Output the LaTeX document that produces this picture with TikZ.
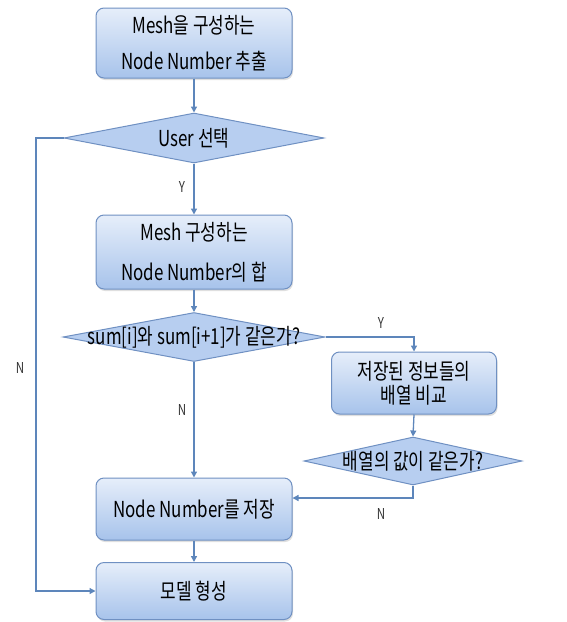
\documentclass[tikz,border=0pt]{standalone}
\usepackage{fontspec}
\setmainfont{Noto Sans CJK KR}[FakeStretch=0.77]
\usetikzlibrary{shapes.geometric,arrows.meta,shadows}
\definecolor{lc}{HTML}{5D86BB}
\definecolor{bd}{HTML}{6F90C2}
\definecolor{ft}{HTML}{E6EEFA}
\definecolor{fb}{HTML}{A7C3EB}
\definecolor{df}{HTML}{B7CEF0}
\begin{document}
\begin{tikzpicture}[x=1pt,y=-1pt,
 box/.style={draw=bd, line width=1pt, rounded corners=8pt, top color=ft, bottom color=fb,
   align=center, inner sep=0pt,
   drop shadow={opacity=0.25,shadow xshift=1pt,shadow yshift=-2pt}},
 dia/.style={draw=bd, line width=1pt, diamond, fill=df, inner sep=0pt},
 txt/.style={font=\fontsize{22}{24}\selectfont, inner sep=0pt},
 arr/.style={draw=lc, line width=1.3pt, -{Triangle[length=6pt,width=6pt]}},
 lab/.style={font=\fontsize{15}{16}\selectfont, text=black!80, inner sep=0pt}]
\useasboundingbox (0,0) rectangle (567,622);
% boxes
\node[box, minimum width=196pt, minimum height=70pt, font=\fontsize{22}{36}\selectfont] (b1) at (194,43) {Mesh을 구성하는\\Node Number 추출};
\node[box, minimum width=196pt, minimum height=74pt, font=\fontsize{22}{40}\selectfont] (b2) at (194,252) {Mesh 구성하는\\Node Number의 합};
\node[box, minimum width=165pt, minimum height=62pt, font=\fontsize{22}{24}\selectfont] (b3) at (414,383) {저장된 정보들의\\배열 비교};
\node[box, minimum width=196pt, minimum height=62pt, font=\fontsize{22}{24}\selectfont] (b4) at (194,509) {Node Number를 저장};
\node[box, minimum width=196pt, minimum height=57pt, font=\fontsize{22}{24}\selectfont] (b5) at (194,591) {모델 형성};
% diamonds
\node[dia, minimum width=260pt, minimum height=50pt] (d1) at (194,138) {};
\node[txt] (t1) at (d1) {User 선택};
\node[dia, minimum width=262pt, minimum height=49pt] (d2) at (194,337) {};
\node[txt] (t2) at (d2) {sum[i]와 sum[i+1]가 같은가?};
\node[dia, minimum width=218pt, minimum height=48pt] (d3) at (413,461) {};
\node[txt] (t3) at (d3) {배열의 값이 같은가?};
% coordinates
\coordinate (lft) at (36,138);
\coordinate (ry) at (414,337);
\coordinate (rn) at (413,498);
% connectors
\draw[arr] (b1.south) -- (d1.north);
\draw[arr] (d1.south) -- (b2.north);
\draw[arr] (b2.south) -- (d2.north);
\draw[arr] (d2.south) -- (b4.north);
\draw[arr] (b4.south) -- (b5.north);
\draw[arr] (d1.west) -- (lft) |- (b5.west);
\draw[arr] (d2.east) -- (ry) -- (b3.north);
\draw[arr] (b3.south) -- (d3.north);
\draw[arr] (d3.south) -- (rn) -- (rn -| b4.east);
% labels
\node[lab] (ly1) at (182,187) {Y};
\node[lab] (ln1) at (20,368) {N};
\node[lab] (ly2) at (381,323) {Y};
\node[lab] (ln2) at (182,410) {N};
\node[lab] (ln3) at (381,514) {N};
\end{tikzpicture}
\end{document}
